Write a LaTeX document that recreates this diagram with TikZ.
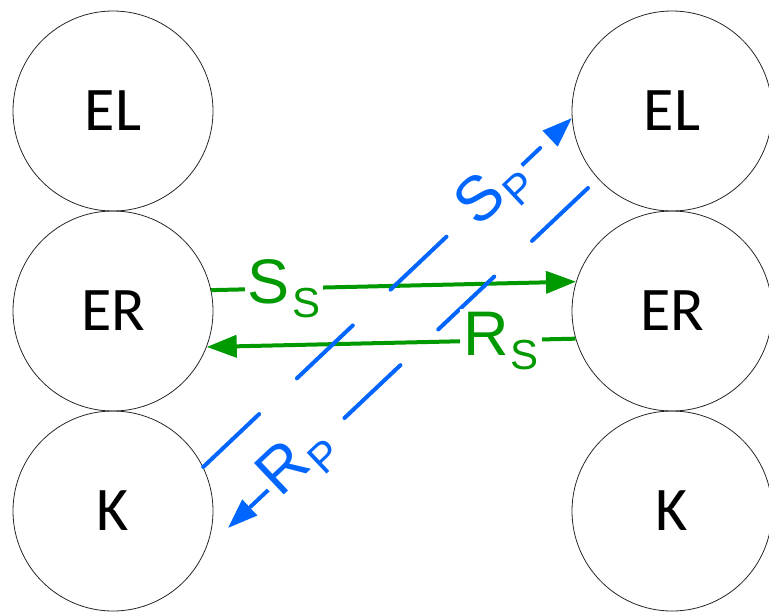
\documentclass[tikz,border=0pt]{standalone}
\usepackage{fontspec}
\setmainfont{Carlito}
\newfontfamily\lblfont{Liberation Sans}
\usetikzlibrary{arrows.meta}
\definecolor{grn}{RGB}{0,153,0}
\definecolor{blu}{RGB}{0,102,255}
\newcommand{\lab}[2]{{\lblfont\fontsize{63}{63}\selectfont #1}\kern2pt\raisebox{-14pt}{\lblfont\fontsize{42}{42}\selectfont #2}}
\begin{document}
\begin{tikzpicture}[x=1pt,y=-1pt,
  ent/.style={circle, draw=black!85, line width=0.8pt, minimum size=200pt, inner sep=0pt, font=\fontsize{62}{62}\selectfont},
  garrow/.style={draw=grn, line width=4pt, -{Triangle[length=30pt,width=22pt]}},
  barrow/.style={draw=blu, line width=4pt, line cap=round, dash pattern=on 77pt off 52pt, -{Triangle[length=30pt,width=21pt]}},
  lblbox/.style={fill=white, inner sep=3pt}]
\useasboundingbox (0,0) rectangle (769,614);
% entities
\node[ent] (elL) at (113,111) {EL};
\node[ent] (erL) at (113,311) {ER};
\node[ent] (kL)  at (113,511) {K};
\node[ent] (elR) at (672,111) {EL};
\node[ent] (erR) at (672,311) {ER};
\node[ent] (kR)  at (672,511) {K};
% green connectors
\draw[garrow] (erL.12) -- (erR.163.7);
\draw[garrow] (erR.196.6) -- (erL.339.6);
% blue connectors
\coordinate (rpStart) at (588,188);
\coordinate (rpEnd) at (228,528);
\draw[barrow] (kL.26) -- (elR.184);
\draw[barrow] (rpStart) -- (rpEnd);
% labels
\node[lblbox, text=grn] (ssl) at (284,289) {\lab{S}{S}};
\node[lblbox, text=grn] (rsl) at (501,341) {\lab{R}{S}};
\node[lblbox, text=blu, rotate=43.25] (spl) at (494,193) {\lab{S}{P}};
\node[lblbox, text=blu, rotate=43.4] (rpl) at (298,462) {\lab{R}{P}};
\end{tikzpicture}
\end{document}
